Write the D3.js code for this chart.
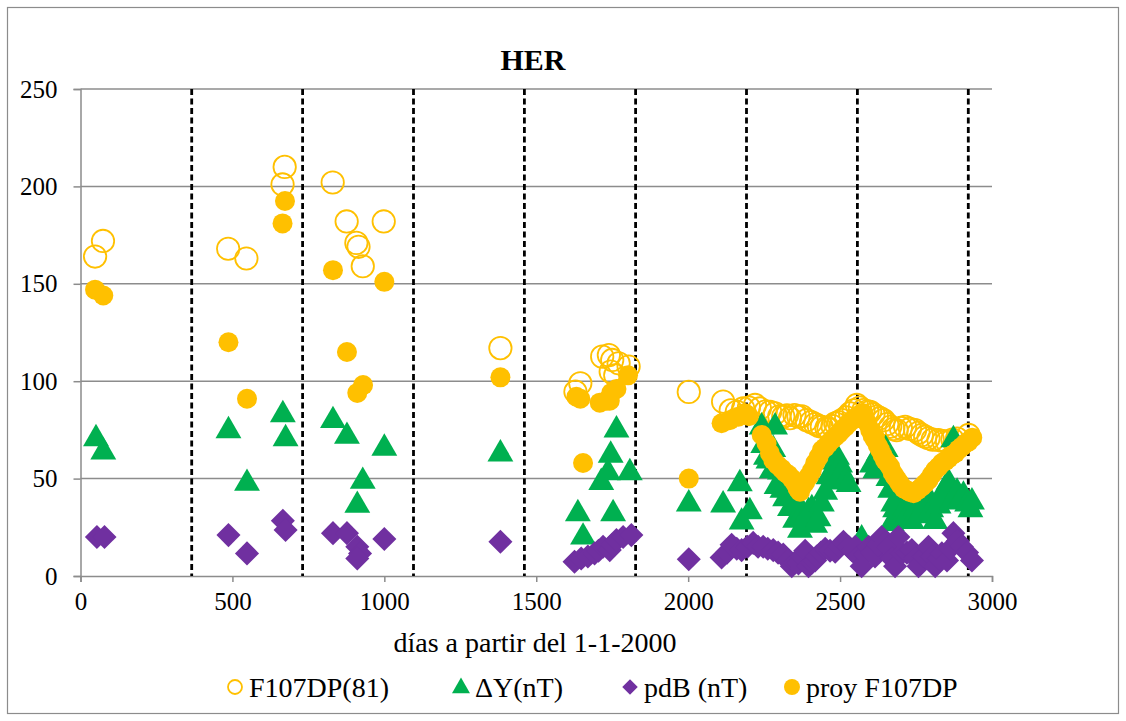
<!DOCTYPE html>
<html><head><meta charset="utf-8">
<script src="https://cdn.jsdelivr.net/npm/d3@7"></script>
<style>body{margin:0;background:#fff}svg{display:block}svg text{font-family:"Liberation Serif","Times New Roman",Times,"Nimbus Roman","DejaVu Serif",serif !important}</style>
</head><body>
<script>
const title = "HER";
const xLabel = "días a partir del 1-1-2000";
const xTicks = [0,500,1000,1500,2000,2500,3000];
const yTicks = [0,50,100,150,200,250];
const yearStarts = [366,731,1096,1461,1827,2192,2557,2922];
const seriesNames = ["F107DP(81)","ΔY(nT)","pdB (nT)","proy F107DP"];

const f107 = [[48,164],[74,172],[486,168],[546,163],[665,201],[672,210],[830,202],[876,182],[908,171],[915,169],[929,159],[998,182],[1382,117],
[1629,94.6],[1645,98.9],[1717,112.6],[1739,113.4],[1750,110.9],[1745,104.9],[1771,109.2],[1760,103],[1804,107.5],
[2002,94.5],[2115,89.5],[2140,85],[2160,84.3],[2181,86],[2200,86.5],[2220,87.8],[2236,86],[2255,84.5],[2270,84.3],[2286,83.5],[2300,82],[2313,81.8],[2325,82.5],[2335,81],[2350,82.6],[2363,81.8],[2374,82],[2390,80],[2405,79],[2418,78],[2430,77],[2440,76.6],[2455,76],[2462,75.8],[2475,77],[2484,78.4],[2495,79],[2506,80],[2520,81.5],[2533,83.5],[2545,85],[2555,87.8],[2565,86.5],[2577,85.2],[2590,84.5],[2599,84.3],[2610,83],[2621,81.8],[2632,81],[2643,80],[2655,78],[2665,76.6],[2675,75.5],[2686,74.9],[2700,76],[2714,76.6],[2730,75.5],[2747,74.9],[2758,73.5],[2769,72.4],[2780,71.5],[2791,70.7],[2805,70],[2824,69.8],[2840,69.3],[2852,68.9],[2870,70],[2885,70.5],[2923,72.4]];

const deltaY = [[51,71.5],[75,64.7],[487,75.6],[548,48.6],[666,83.8],[675,71.5],[831,80.8],[877,72.7],[911,37.3],[929,49.6],[1000,66.6],[1382,63.7],
[1637,33],[1654,21],[1714,49],[1736,54],[1745,63],[1764,76],[1753,33],[1808,54],
[2002,38],[2115,37.5],[2170,48.4],[2176,28.7],[2203,34],[2242,77.5],[2247,68],[2256,62],[2264,60],[2275,55],[2286,77.5],[2280,66],[2291,47],[2302,54.4],[2310,45],[2319,40.7],[2328,50],[2335,35.6],[2344,42],[2352,29.6],[2360,38],[2368,24.5],[2376,33],[2385,30.4],[2396,34],[2407,35.6],[2418,27],[2429,30.4],[2440,38],[2451,44],[2462,52],[2473,49.3],[2484,59.5],[2490,62],[2500,58],[2506,54.4],[2517,50],[2528,48],[2571,20],[2605,58],[2616,55],[2627,64],[2638,60],[2650,66],[2659,51],[2665,45],[2670,28],[2675,38],[2681,35],[2692,41],[2703,30],[2715,36],[2725,33],[2736,29],[2750,36],[2760,32],[2769,34],[2780,38],[2791,41],[2800,35],[2813,29],[2824,37],[2835,42.5],[2846,46],[2857,49],[2868,39],[2873,71],[2885,44],[2895,40],[2906,42.5],[2918,38],[2929,35],[2934,39]];

const pdB = [[54,20],[79,20],[487,21],[548,11.6],[666,28.4],[675,23.6],[831,22],[877,22],[911,15],[920,11.6],[911,9],[1000,19],[1382,17.6],
[1626,7.3],[1648,9],[1670,10],[1692,11.6],[1705,13],[1720,15],[1742,13.3],[1750,16],[1764,18.5],[1786,20],[1813,21],
[2002,8.6],[2110,9.5],[2128,12],[2143,16],[2160,14],[2176,13.3],[2195,15],[2214,17],[2230,15],[2247,15],[2262,14],[2280,13.3],[2296,12],[2313,11],[2328,8],[2341,5],[2352,7],[2363,6.5],[2374,10],[2385,13],[2396,5],[2408,7],[2418,8],[2423,10],[2437,12],[2451,14],[2467,13],[2484,12.5],[2497,15],[2511,17.6],[2528,15],[2540,13],[2550,15],[2560,10],[2571,5],[2582,11],[2594,15],[2605,12],[2615,10],[2626,16],[2637,20],[2648,17],[2659,15],[2670,9],[2681,5],[2692,20],[2703,11.6],[2720,12],[2736,13.3],[2748,9],[2758,5],[2775,10],[2791,15],[2802,10],[2813,5],[2825,9],[2835,11.6],[2852,8],[2862,14],[2873,22],[2887,18],[2901,15],[2918,12],[2934,8]];

const proy = [[48,147],[75,144],[487,120],[548,91],[665,181],[673,192.5],[831,157],[877,115],[911,94],[930,98],[1000,151],[1382,102],
[1632,92],[1645,91],[1654,58],[1709,89],[1731,90],[1742,90],[1747,94],[1764,96],[1802,103],
[2002,50],[2110,78.4],[2137,80],[2165,81.8],[2187,83.5],[2200,82],[2242,72.4],[2258,68],[2269,63],[2280,59.5],[2294,57],[2308,55],[2320,53],[2330,52],[2341,50],[2352,47.6],[2360,45],[2368,43.3],[2374,45.8],[2385,48],[2396,51],[2407,54],[2418,58],[2429,61],[2440,64.7],[2451,66],[2462,68],[2473,70],[2484,71.5],[2495,73],[2506,75],[2517,76.5],[2528,78.4],[2540,80],[2555,81.8],[2566,83],[2577,83.5],[2588,79],[2599,75],[2607,72],[2615,70],[2624,67],[2632,64.7],[2640,62],[2648,59.5],[2656,58],[2665,56],[2673,53],[2681,51],[2690,49],[2698,47],[2709,45],[2720,44],[2731,43],[2742,42.5],[2755,44],[2769,45.8],[2780,47.5],[2791,49.3],[2802,52],[2813,54.4],[2824,56],[2835,58],[2846,59],[2857,60.4],[2868,62],[2879,63],[2890,65],[2901,66.4],[2912,68],[2923,69],[2935,71]];

const YELLOW="#FFC000", GREEN="#00B050", PURPLE="#7030A0", GRID="#8c8c8c";
const FONT='"Liberation Serif","Times New Roman",Times,"Nimbus Roman","DejaVu Serif",serif';
const W=1126,H=721;
const svg=d3.select("body").append("svg").attr("width",W).attr("height",H);
svg.append("rect").attr("x",7.5).attr("y",7.5).attr("width",1111).attr("height",706).attr("fill","#fff").attr("stroke","#8c8c8c").attr("stroke-width",1.2);

const x=d3.scaleLinear().domain([0,3000]).range([80.5,992]);
const y=d3.scaleLinear().domain([0,250]).range([576,89]);

svg.append("g").selectAll("line").data(yTicks.filter(d=>d>0)).join("line")
 .attr("x1",x(0)).attr("x2",x(3000)).attr("y1",d=>y(d)).attr("y2",d=>y(d))
 .attr("stroke",GRID).attr("stroke-width",1.5);

const xa=svg.append("g").attr("transform",`translate(0,${y(0)})`)
 .call(d3.axisBottom(x).tickValues(xTicks).tickSize(6).tickPadding(10).tickFormat(d3.format("d")));
xa.attr("font-family",FONT);
xa.select(".domain").attr("stroke",GRID).attr("stroke-width",1.5);
xa.selectAll(".tick line").attr("stroke",GRID).attr("stroke-width",1.5);
xa.selectAll(".tick text").attr("font-size",25).attr("fill","#000").style("font-family",FONT);
const ya=svg.append("g").attr("transform",`translate(${x(0)},0)`)
 .call(d3.axisLeft(y).tickValues(yTicks).tickSize(7).tickPadding(16));
ya.attr("font-family",FONT);
ya.select(".domain").attr("stroke",GRID).attr("stroke-width",1.5);
ya.selectAll(".tick line").attr("stroke",GRID).attr("stroke-width",1.5);
ya.selectAll(".tick text").attr("font-size",25).attr("fill","#000").style("font-family",FONT);

svg.append("g").selectAll("line").data(yearStarts).join("line")
 .attr("x1",d=>x(d)).attr("x2",d=>x(d)).attr("y1",y(250)).attr("y2",y(0))
 .attr("stroke","#000").attr("stroke-width",2.8).attr("stroke-dasharray","6,3.5");

svg.append("g").selectAll("circle").data(f107).join("circle")
 .attr("cx",d=>x(d[0])).attr("cy",d=>y(d[1])).attr("r",11.2)
 .attr("fill","none").attr("stroke",YELLOW).attr("stroke-width",1.8);
svg.append("g").selectAll("path").data(deltaY).join("path")
 .attr("d",d3.symbol().type(d3.symbolTriangle).size(290))
 .attr("transform",d=>`translate(${x(d[0])},${y(d[1])+2})`).attr("fill",GREEN);
svg.append("g").selectAll("path").data(pdB).join("path")
 .attr("d",d3.symbol().type(d3.symbolSquare).size(290))
 .attr("transform",d=>`translate(${x(d[0])},${y(d[1])}) rotate(45)`).attr("fill",PURPLE);
svg.append("g").selectAll("circle").data(proy).join("circle")
 .attr("cx",d=>x(d[0])).attr("cy",d=>y(d[1])).attr("r",10).attr("fill",YELLOW);

svg.append("text").attr("x",533).attr("y",70).attr("text-anchor","middle")
 .attr("font-size",30).attr("font-weight","bold").style("font-family",FONT).text(title);
svg.append("text").attr("x",535).attr("y",652).attr("text-anchor","middle")
 .attr("font-size",28).style("font-family",FONT).text(xLabel);

const ly=687;
const lg=svg.append("g");
const legItems=[{mx:235,tx:249},{mx:461,tx:475},{mx:630,tx:644},{mx:792,tx:806}];
lg.append("circle").attr("cx",legItems[0].mx).attr("cy",ly).attr("r",7).attr("fill","none").attr("stroke",YELLOW).attr("stroke-width",1.8);
lg.append("path").attr("d",d3.symbol().type(d3.symbolTriangle).size(140)).attr("transform",`translate(${legItems[1].mx},${ly+1})`).attr("fill",GREEN);
lg.append("path").attr("d",d3.symbol().type(d3.symbolSquare).size(120)).attr("transform",`translate(${legItems[2].mx},${ly}) rotate(45)`).attr("fill",PURPLE);
lg.append("circle").attr("cx",legItems[3].mx).attr("cy",ly).attr("r",8).attr("fill",YELLOW);
lg.selectAll("text").data(seriesNames).join("text")
 .attr("x",(d,i)=>legItems[i].tx).attr("y",ly+10).attr("font-size",28).style("font-family",FONT).text(d=>d);
</script>
</body></html>
